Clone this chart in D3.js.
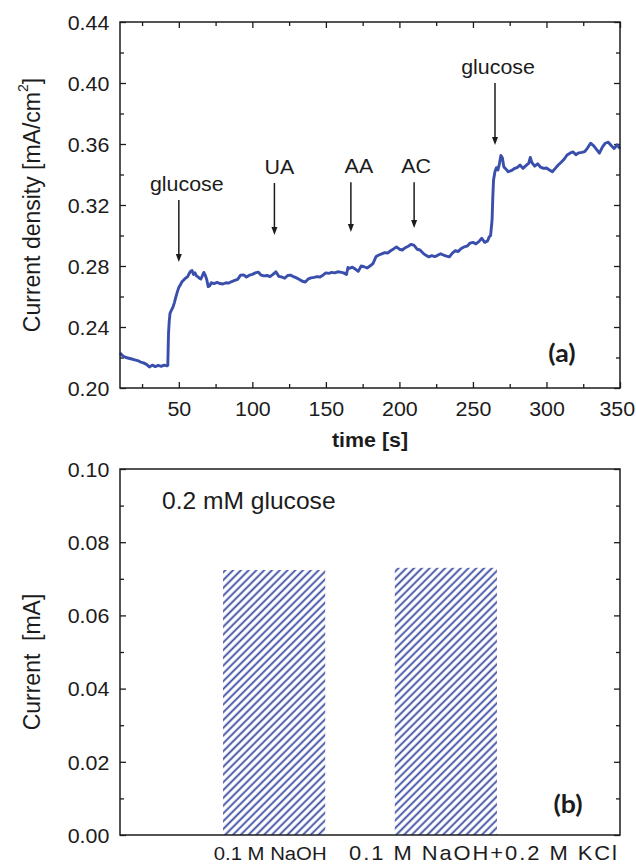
<!DOCTYPE html>
<html><head><meta charset="utf-8">
<script src="https://cdn.jsdelivr.net/npm/d3@7"></script>
<style>
body{margin:0;background:#fff}
svg{display:block}
text{font-family:"Liberation Sans",Arial,sans-serif;fill:#1c1c1c}
</style>
</head><body><svg id="c" width="636" height="864"></svg>
<script>
// ---------- DATA ----------
const times = [10,12,14,16,18,20,22,24,26,28,30,32,34,36,38,40,42,42.5,43,43.5,44,45,46,47,48,49,50,51,52,54,56,57,58,59,60,61,62,63,64,65,66,67,68,69,70,71,72,74,76,78,80,82,84,86,88,90,92,94,96,98,100,102,104,106,108,110,112,114,116,118,120,122,124,126,128,130,132,134,136,138,140,142,144,146,148,150,152,154,156,158,160,162,164,165,166,168,170,172,174,176,178,180,182,184,186,188,190,192,194,196,198,200,202,204,206,208,210,212,214,216,218,220,222,224,226,228,230,232,234,236,238,240,242,244,246,248,250,252,254,256,258,260,261,262,262.5,263,263.5,264,265,266,267,268,269,270,271,272,274,276,278,280,282,284,286,288,289,290,292,294,296,298,300,302,304,306,308,310,312,314,316,318,320,322,324,326,328,330,332,334,336,338,340,342,344,346,348,350];
const density = [0.2230,0.2210,0.2200,0.2195,0.2190,0.2185,0.2180,0.2170,0.2165,0.2155,0.2138,0.2150,0.2140,0.2148,0.2142,0.2150,0.2145,0.2150,0.2360,0.2440,0.2490,0.2510,0.2530,0.2560,0.2597,0.2630,0.2660,0.2675,0.2695,0.2715,0.2730,0.2750,0.2765,0.2770,0.2745,0.2755,0.2735,0.2730,0.2720,0.2715,0.2735,0.2758,0.2740,0.2710,0.2665,0.2670,0.2690,0.2685,0.2692,0.2685,0.2682,0.2690,0.2688,0.2698,0.2705,0.2712,0.2740,0.2742,0.2728,0.2740,0.2745,0.2755,0.2760,0.2740,0.2735,0.2738,0.2730,0.2745,0.2762,0.2732,0.2728,0.2720,0.2738,0.2740,0.2730,0.2722,0.2712,0.2700,0.2695,0.2715,0.2722,0.2725,0.2730,0.2728,0.2740,0.2755,0.2752,0.2758,0.2755,0.2762,0.2760,0.2755,0.2745,0.2790,0.2785,0.2792,0.2780,0.2765,0.2800,0.2795,0.2787,0.2800,0.2815,0.2860,0.2872,0.2880,0.2888,0.2885,0.2900,0.2912,0.2925,0.2910,0.2905,0.2920,0.2930,0.2942,0.2935,0.2910,0.2905,0.2885,0.2870,0.2860,0.2868,0.2862,0.2870,0.2880,0.2872,0.2865,0.2860,0.2885,0.2900,0.2895,0.2915,0.2925,0.2930,0.2950,0.2955,0.2945,0.2960,0.2982,0.2955,0.2965,0.2990,0.3000,0.3050,0.3100,0.3250,0.3364,0.3420,0.3445,0.3430,0.3470,0.3525,0.3510,0.3450,0.3440,0.3418,0.3425,0.3438,0.3445,0.3462,0.3440,0.3458,0.3475,0.3512,0.3480,0.3455,0.3470,0.3448,0.3440,0.3443,0.3430,0.3418,0.3440,0.3462,0.3480,0.3500,0.3528,0.3540,0.3548,0.3530,0.3542,0.3545,0.3550,0.3575,0.3605,0.3590,0.3565,0.3540,0.3580,0.3605,0.3612,0.3590,0.3570,0.3595,0.3570];
const xTicksA = [50,100,150,200,250,300,350];
const xMinorA = [25,75,125,175,225,275,325];
const yTicksA = [0.20,0.24,0.28,0.32,0.36,0.40,0.44];
const yMinorA = [0.22,0.26,0.30,0.34,0.38,0.42];
const eventNames = ["glucose","UA","AA","AC","glucose"];
const eventTimes = [50,115,167,210,265];
const categories = ["0.1 M NaOH","0.1 M NaOH+0.2 M KCl"];
const currents = [0.0724,0.0730];
const yTicksB = [0.00,0.02,0.04,0.06,0.08,0.10];
const yMinorB = [0.01,0.03,0.05,0.07,0.09];

// ---------- LAYOUT ----------
const SX = 1.07; // horizontal text stretch
const ink = "#1c1c1c", lineCol = "#3a4fac", hatchCol = "#3b4aa0";
const svg = d3.select("#c");
const A = {l:120, r:620, t:22, b:388};
const B = {l:120, r:620, t:469, b:835};

const xA = d3.scaleLinear().domain([10,350]).range([A.l,A.r]);
const yA = d3.scaleLinear().domain([0.20,0.44]).range([A.b,A.t]);
const yB = d3.scaleLinear().domain([0,0.10]).range([B.b,B.t]);
const xB = d3.scaleBand().domain(categories).range([120,600]).paddingInner(0.405).paddingOuter(0.6);

function stretchText(sel){ sel.attr("transform", function(){ const t=d3.select(this).attr("transform"); return (t?t+" ":"")+`scale(${SX},1)`; }); }
function label(x,y,str,size,opts={}){
  const t = svg.append("text").attr("transform",`translate(${x},${y}) scale(${SX},1)`)
    .attr("text-anchor",opts.anchor||"middle").attr("font-size",size);
  if(opts.weight) t.attr("font-weight",opts.weight);
  if(opts.family) t.style("font-family",opts.family);
  if(opts.len) t.attr("textLength",opts.len/SX).attr("lengthAdjust","spacing");
  t.text(str);
  return t;
}
function styleAxis(g,fs){
  g.select(".domain").remove();
  g.selectAll(".tick line").attr("stroke",ink).attr("stroke-width",1.3);
  g.selectAll(".tick text").attr("font-size",fs).attr("fill",ink).style("font-family",'"Liberation Sans",Arial,sans-serif');
}

// ---------- PANEL A ----------
const gA = svg.append("g");
const axL = gA.append("g").attr("transform",`translate(${A.l},0)`).call(d3.axisLeft(yA).tickValues(yTicksA).tickFormat(d3.format(".2f")).tickSize(-6).tickPadding(10));
styleAxis(axL,20); axL.selectAll(".tick text").attr("dy","0.36em").call(stretchText);
gA.append("g").attr("transform",`translate(${A.l},0)`).call(d3.axisLeft(yA).tickValues(yMinorA).tickFormat("").tickSize(-4)).call(g=>styleAxis(g,0));
gA.append("g").attr("transform",`translate(${A.r},0)`).call(d3.axisRight(yA).tickValues(yTicksA).tickFormat("").tickSize(-6)).call(g=>styleAxis(g,0));
gA.append("g").attr("transform",`translate(${A.r},0)`).call(d3.axisRight(yA).tickValues(yMinorA).tickFormat("").tickSize(-4)).call(g=>styleAxis(g,0));
const axB = gA.append("g").attr("transform",`translate(0,${A.b})`).call(d3.axisBottom(xA).tickValues(xTicksA).tickSize(-6).tickPadding(10));
styleAxis(axB,20); axB.selectAll(".tick text").attr("dy","0.9em").call(stretchText);
axB.selectAll(".tick text").filter(d=>d===350).attr("x",-3);
gA.append("g").attr("transform",`translate(0,${A.b})`).call(d3.axisBottom(xA).tickValues(xMinorA).tickFormat("").tickSize(-4)).call(g=>styleAxis(g,0));
gA.append("g").attr("transform",`translate(0,${A.t})`).call(d3.axisTop(xA).tickValues(xTicksA).tickFormat("").tickSize(-6)).call(g=>styleAxis(g,0));
gA.append("g").attr("transform",`translate(0,${A.t})`).call(d3.axisTop(xA).tickValues(xMinorA).tickFormat("").tickSize(-4)).call(g=>styleAxis(g,0));

const pts = times.map((t,i)=>[t,density[i]]);
gA.append("path").datum(pts).attr("fill","none").attr("stroke",lineCol).attr("stroke-width",2.9).attr("stroke-linejoin","round")
  .attr("d",d3.line().x(d=>xA(d[0])).y(d=>yA(d[1])));

gA.append("rect").attr("x",A.l).attr("y",A.t).attr("width",A.r-A.l).attr("height",A.b-A.t).attr("fill","none").attr("stroke",ink).attr("stroke-width",1.5);

// annotations (arrow start / tip in data units, label offsets)
const arrowTop = [0.3233,0.3344,0.3350,0.3350,0.4000];
const arrowTip = [0.2826,0.3003,0.3023,0.3050,0.3593];
const lblDx = [8,5,8,2,3];
eventNames.forEach((n,i)=>{
  const x = xA(eventTimes[i]);
  const y1 = yA(arrowTop[i]), y2 = yA(arrowTip[i]);
  gA.append("line").attr("x1",x).attr("x2",x).attr("y1",y1).attr("y2",y2-6).attr("stroke",ink).attr("stroke-width",1.5);
  gA.append("path").attr("d",`M${x-3},${y2-8}L${x+3},${y2-8}L${x},${y2}Z`).attr("fill",ink);
  label(x+lblDx[i], y1-9, n, 20);
});
label(562, 362, "(a)", 25, {weight:"bold", family:"Lato, 'Open Sans', sans-serif"});
label(370, 447, "time [s]", 20, {weight:"bold"});
{
  const t = svg.append("text").attr("transform",`translate(40,205) scale(${SX},1) rotate(-90)`).attr("text-anchor","middle").attr("font-size",23);
  t.append("tspan").text("Current density [mA/cm");
  t.append("tspan").attr("font-size",14).attr("dy",-11).text("2");
  t.append("tspan").attr("dy",11).text("]");
}

// ---------- PANEL B ----------
const gB = svg.append("g");
const defs = svg.append("defs");
defs.append("pattern").attr("id","hatch").attr("patternUnits","userSpaceOnUse").attr("width",5.5).attr("height",5.5).attr("patternTransform","rotate(45)")
  .append("line").attr("x1",1.5).attr("x2",1.5).attr("y1",0).attr("y2",5.5).attr("stroke",hatchCol).attr("stroke-width",1.8);

gB.selectAll("rect.bar").data(categories).join("rect").attr("class","bar")
  .attr("x",d=>xB(d)).attr("width",xB.bandwidth())
  .attr("y",(d,i)=>yB(currents[i])).attr("height",(d,i)=>yB(0)-yB(currents[i]))
  .attr("fill","url(#hatch)");

const bL = gB.append("g").attr("transform",`translate(${B.l},0)`).call(d3.axisLeft(yB).tickValues(yTicksB).tickFormat(d3.format(".2f")).tickSize(-6).tickPadding(10));
styleAxis(bL,20); bL.selectAll(".tick text").attr("dy","0.36em").call(stretchText);
gB.append("g").attr("transform",`translate(${B.l},0)`).call(d3.axisLeft(yB).tickValues(yMinorB).tickFormat("").tickSize(-4)).call(g=>styleAxis(g,0));
gB.append("g").attr("transform",`translate(${B.r},0)`).call(d3.axisRight(yB).tickValues(yTicksB).tickFormat("").tickSize(-6)).call(g=>styleAxis(g,0));
gB.append("g").attr("transform",`translate(${B.r},0)`).call(d3.axisRight(yB).tickValues(yMinorB).tickFormat("").tickSize(-4)).call(g=>styleAxis(g,0));
gB.append("rect").attr("x",B.l).attr("y",B.t).attr("width",B.r-B.l).attr("height",B.b-B.t).attr("fill","none").attr("stroke",ink).attr("stroke-width",1.5);

// category labels
label(xB(categories[0])+xB.bandwidth()/2-4, 860, categories[0], 19);
label(349, 860, categories[1], 20.5, {anchor:"start", len:268});
label(162, 509, "0.2 mM glucose", 23, {anchor:"start"});
label(568, 813, "(b)", 25, {weight:"bold", family:"Lato, 'Open Sans', sans-serif"});
{
  const t = svg.append("text").attr("transform",`translate(40,662) scale(${SX},1) rotate(-90)`).attr("text-anchor","middle").attr("font-size",23);
  t.text("Current  [mA]").style("white-space","pre");
}
</script></body></html>
